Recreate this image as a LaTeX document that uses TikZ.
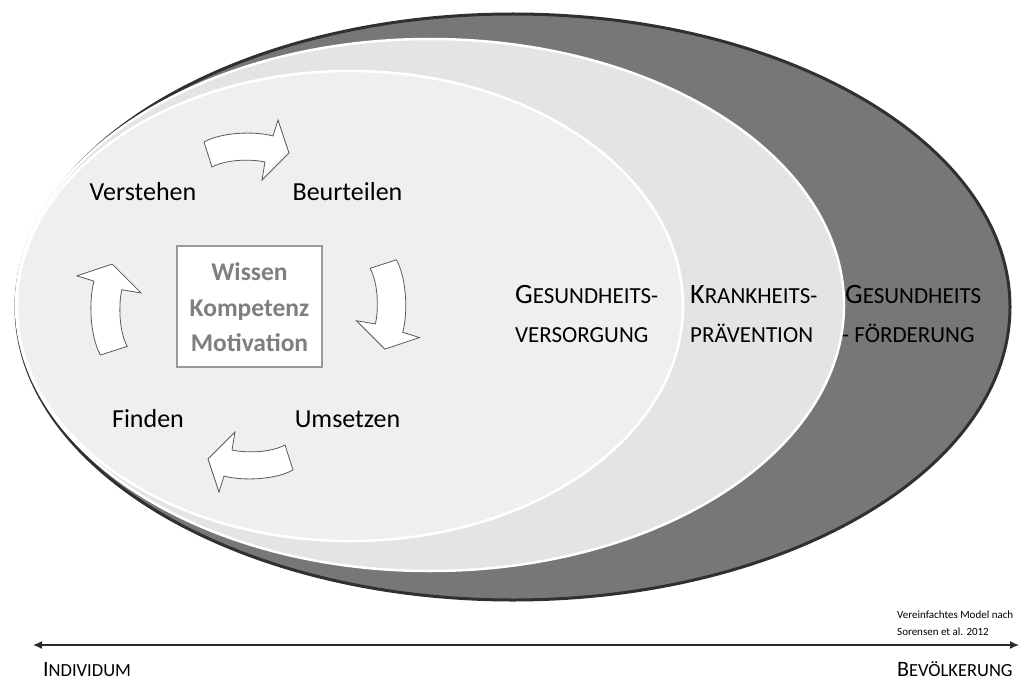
\documentclass[tikz,border=0pt]{standalone}
\usepackage{fontspec}
\setmainfont{Carlito}
\usetikzlibrary{arrows.meta}
\definecolor{outerfill}{HTML}{777777}
\definecolor{outerline}{HTML}{303030}
\definecolor{midfill}{HTML}{E4E4E4}
\definecolor{innerfill}{HTML}{EFEFEF}
\definecolor{boxtext}{HTML}{7F7F7F}
\definecolor{boxline}{HTML}{9A9A9A}
\definecolor{arrline}{HTML}{5A5A5A}
\definecolor{axisline}{HTML}{2A2A2A}
\newcommand{\fsz}[1]{\fontsize{#1pt}{#1pt}\selectfont}
\begin{document}
\begin{tikzpicture}[x=1pt,y=-1pt,
  cyclabel/.style={anchor=base, inner sep=0pt, font=\fsz{26}},
  boxlabel/.style={anchor=base, inner sep=0pt, font=\fsz{25.5}\bfseries, text=boxtext},
  sclabel/.style={anchor=base west, inner sep=0pt},
  axislabel/.style={anchor=base west, inner sep=0pt},
  notelabel/.style={anchor=base west, inner sep=0pt, font=\fsz{11}},
  cycarrow/.style={fill=white, draw=arrline, line width=0.8pt, line join=miter},
  cyc/.pic={
    \path[cycarrow] (-43,-8) .. controls (-25,-18) and (8,-19) .. (26,-14)
      -- (31,-30) -- (42,3) -- (15,30) -- (18,12)
      .. controls (5,9) and (-20,9) .. (-35,17) -- cycle;
  }]
\useasboundingbox (0,0) rectangle (1020,682);
% ellipses
\path[fill=outerfill, draw=outerline, line width=3pt] (513,307) ellipse [x radius=497pt, y radius=293pt];
\path[fill=midfill, draw=white, line width=2.5pt] (430,305) ellipse [x radius=414pt, y radius=266pt];
\path[fill=innerfill, draw=white, line width=2.5pt] (350,306) ellipse [x radius=333pt, y radius=235pt];
% cycle arrows
\pic (atop) at (247,150) {cyc};
\pic[rotate=-90, scale=1.05] (aright) at (388,305) {cyc};
\pic[rotate=180] (abottom) at (250,462) {cyc};
\pic[rotate=90, scale=1.07] (aleft) at (109,309) {cyc};
% cycle labels
\node[cyclabel] (verstehen) at (143,200) {Verstehen};
\node[cyclabel] (beurteilen) at (347.5,200) {Beurteilen};
\node[cyclabel] (finden) at (148,427) {Finden};
\node[cyclabel] (umsetzen) at (347.5,427) {Umsetzen};
% centre box
\node[draw=boxline, line width=1.3pt, fill=white, minimum width=145pt, minimum height=121pt, inner sep=0pt] (box) at (249.5,306.5) {};
\node[boxlabel] (wissen) at (box.center |- 0,280) {Wissen};
\node[boxlabel] (kompetenz) at (box.center |- 0,316) {Kompetenz};
\node[boxlabel] (motivation) at (box.center |- 0,351) {Motivation};
% right labels
\node[sclabel] (gv1) at (515,303) {{\fsz{28}G}{\fsz{23}ESUNDHEITS-}};
\node[sclabel] (gv2) at (515,342) {\fsz{23}VERSORGUNG};
\node[sclabel] (kp1) at (690,303) {{\fsz{28}K}{\fsz{23}RANKHEITS-}};
\node[sclabel] (kp2) at (690,342) {\fsz{23}PRÄVENTION};
\node[sclabel] (gf1) at (845,303) {{\fsz{28}G}{\fsz{23}ESUNDHEITS}};
\node[sclabel] (gf2) at (842,342) {\fsz{23}- FÖRDERUNG};
% axis
\coordinate (axL) at (33,645);
\coordinate (axR) at (1019,645);
\draw[axisline, line width=1.3pt, {Latex[length=9pt,width=8pt]}-{Latex[length=9pt,width=8pt]}] (axL) -- (axR);
\node[axislabel] (individuum) at (43,676) {{\fsz{22}I}{\fsz{18.5}NDIVIDUM}};
\node[axislabel] (bevoelkerung) at (897,676) {{\fsz{22}B}{\fsz{18.5}EVÖLKERUNG}};
\node[notelabel] (note1) at (897,618) {Vereinfachtes Model nach};
\node[notelabel] (note2) at (897,635) {Sorensen et al. 2012};
\end{tikzpicture}
\end{document}
